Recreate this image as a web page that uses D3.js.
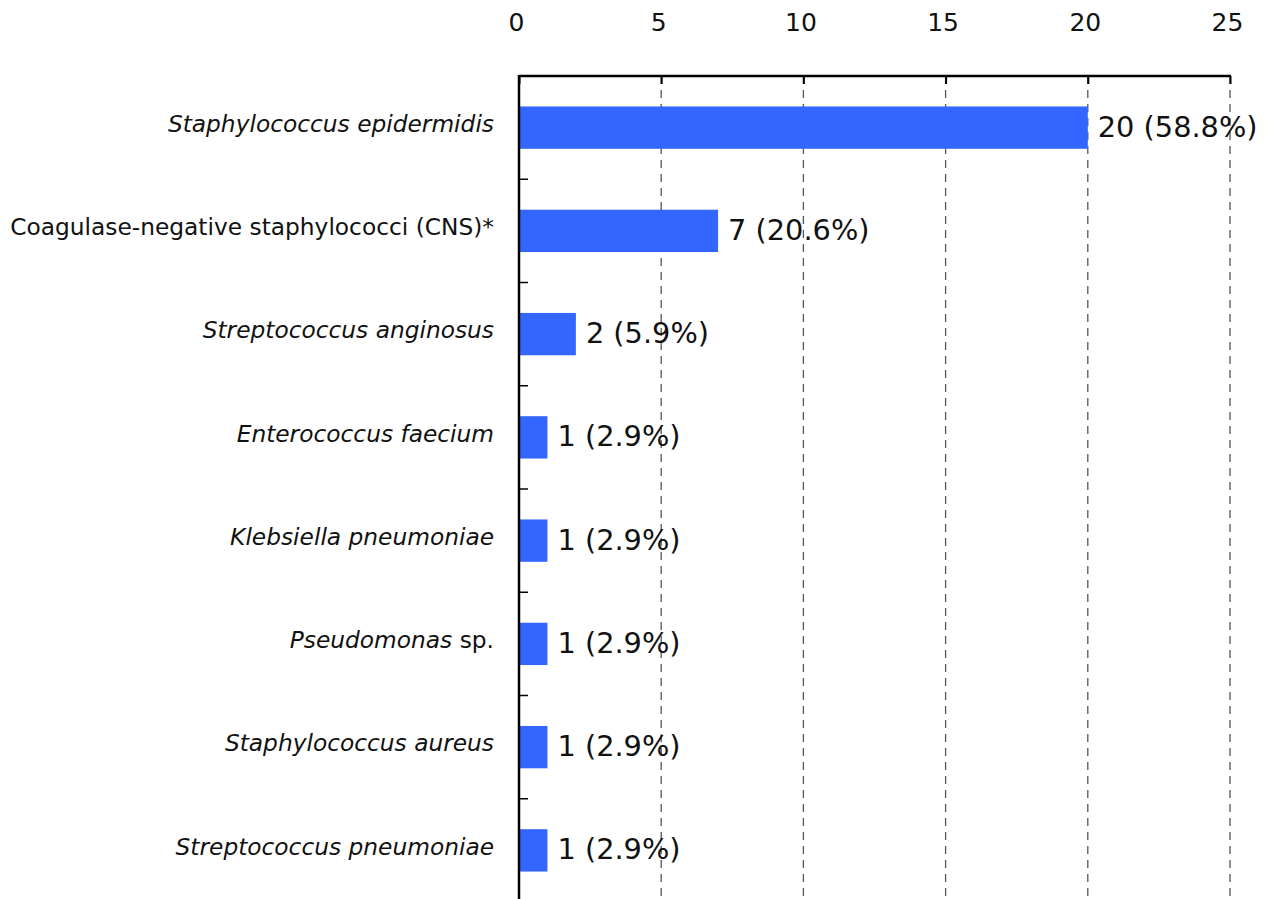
<!DOCTYPE html>
<html>
<head>
<meta charset="utf-8">
<script src="https://cdn.jsdelivr.net/npm/d3@7"></script>
<style>
  body { margin: 0; background: #fff; }
  text { font-family: "DejaVu Sans", Verdana, sans-serif; fill: #111; }
</style>
</head>
<body>
<div id="chart"></div>
<script>
// organisms, top to bottom
var organisms = [
    "Staphylococcus epidermidis",
    "Coagulase-negative staphylococci (CNS)*",
    "Streptococcus anginosus",
    "Enterococcus faecium",
    "Klebsiella pneumoniae",
    "Pseudomonas sp.",
    "Staphylococcus aureus",
    "Streptococcus pneumoniae"
];
var counts = [20, 7, 2, 1, 1, 1, 1, 1];
var percents = ["58.8", "20.6", "5.9", "2.9", "2.9", "2.9", "2.9", "2.9"];
var xTicks = [0, 5, 10, 15, 20, 25];

// label parts: [text, italic]
var labelParts = [
    [["Staphylococcus epidermidis", true]],
    [["Coagulase-negative staphylococci (CNS)*", false]],
    [["Streptococcus anginosus", true]],
    [["Enterococcus faecium", true]],
    [["Klebsiella pneumoniae", true]],
    [["Pseudomonas", true], [" sp.", false]],
    [["Staphylococcus aureus", true]],
    [["Streptococcus pneumoniae", true]]
];

var width = 1267, height = 899;
var plotLeft = 519, plotRight = 1230, plotTop = 76, plotBottom = 902;

var svg = d3.select("#chart").append("svg")
    .attr("width", width)
    .attr("height", height);

var x = d3.scaleLinear().domain([0, 25]).range([plotLeft, plotRight]);
var y = d3.scaleBand().domain(organisms).range([plotTop, plotBottom]).paddingInner(0.59).paddingOuter(0.295);
var yb = d3.scaleBand().domain(organisms).range([plotTop, plotBottom]);

// dashed grid
svg.selectAll("line.grid").data(xTicks.slice(1)).enter().append("line")
    .attr("class", "grid")
    .attr("x1", function(d) { return x(d); })
    .attr("x2", function(d) { return x(d); })
    .attr("y1", plotTop)
    .attr("y2", height)
    .attr("stroke", "#555")
    .attr("stroke-width", 1.3)
    .attr("stroke-dasharray", "8,6");

// bars
svg.selectAll("rect.bar").data(organisms).enter().append("rect")
    .attr("class", "bar")
    .attr("x", x(0))
    .attr("y", function(d) { return y(d); })
    .attr("width", function(d, i) { return x(counts[i]) - x(0); })
    .attr("height", y.bandwidth())
    .attr("fill", "#3366ff");

// top axis
var xAxis = svg.append("g")
    .attr("transform", "translate(0," + plotTop + ")")
    .call(d3.axisTop(x).tickValues(xTicks).tickSize(-8).tickPadding(0));
xAxis.select(".domain").remove();
xAxis.selectAll(".tick line").attr("stroke", "#000").attr("stroke-width", 2);
xAxis.selectAll(".tick text")
    .attr("x", -3)
    .attr("y", -54)
    .attr("dy", "0.35em")
    .style("font-size", "25px")
    .style("font-family", "DejaVu Sans, sans-serif")
    .attr("fill", "#111");

svg.append("line")
    .attr("x1", plotLeft).attr("x2", plotRight + 1)
    .attr("y1", plotTop).attr("y2", plotTop)
    .attr("stroke", "#000").attr("stroke-width", 2.5);

// left axis with inward ticks at band edges
svg.append("line")
    .attr("x1", plotLeft).attr("x2", plotLeft)
    .attr("y1", plotTop - 1).attr("y2", height)
    .attr("stroke", "#000").attr("stroke-width", 2.5);

svg.selectAll("line.ytick").data(organisms.slice(1)).enter().append("line")
    .attr("class", "ytick")
    .attr("x1", plotLeft).attr("x2", plotLeft + 9)
    .attr("y1", function(d) { return yb(d); })
    .attr("y2", function(d) { return yb(d); })
    .attr("stroke", "#000").attr("stroke-width", 1.5);

// category labels
var labels = svg.selectAll("text.cat").data(organisms).enter().append("text")
    .attr("class", "cat")
    .attr("x", plotLeft - 25)
    .attr("y", function(d) { return yb(d) + yb.bandwidth() / 2 - 4; })
    .attr("dy", "0.35em")
    .attr("text-anchor", "end")
    .style("font-size", "23.3px");

labels.each(function(d, i) {
    var t = d3.select(this);
    labelParts[i].forEach(function(p) {
        t.append("tspan").text(p[0]).style("font-style", p[1] ? "italic" : "normal");
    });
});

// value labels
svg.selectAll("text.val").data(organisms).enter().append("text")
    .attr("class", "val")
    .attr("x", function(d, i) { return x(counts[i]) + 10; })
    .attr("y", function(d) { return y(d) + y.bandwidth() / 2 - 1; })
    .attr("dy", "0.35em")
    .style("font-size", "28.8px")
    .text(function(d, i) { return counts[i] + " (" + percents[i] + "%)"; });
</script>
</body>
</html>
